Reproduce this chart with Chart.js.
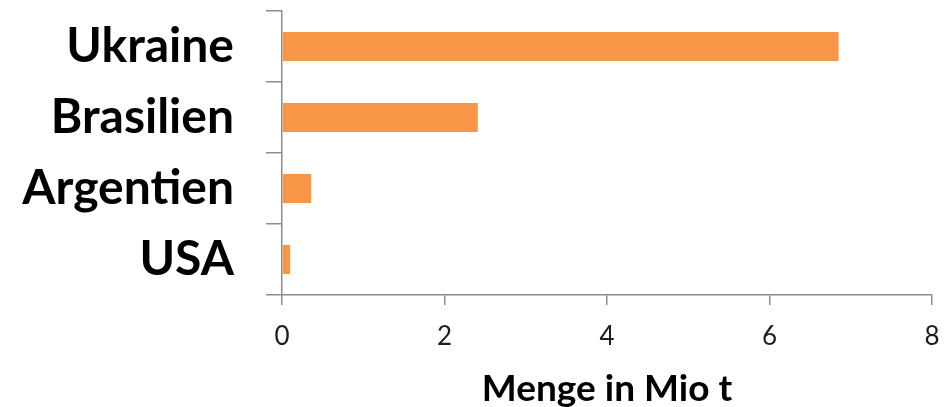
<!DOCTYPE html>
<html>
<head>
<meta charset="utf-8">
<script src="https://cdn.jsdelivr.net/npm/chart.js@4/dist/chart.umd.min.js"></script>
<style>
  html, body { margin: 0; padding: 0; background: #ffffff; }
  #wrap { width: 950px; height: 407px; position: relative; }
</style>
</head>
<body>
<div id="wrap"><canvas id="myChart"></canvas></div>
<script>
const laender = ['Ukraine', 'Brasilien', 'Argentien', 'USA'];
const menge = [6.85, 2.41, 0.36, 0.1];
const xTicks = [0, 2, 4, 6, 8];
const achsenTitel = 'Menge in Mio t';

const achseGrau = '#8c8c8c'; // Achsenlinie
const balkenOrange = '#f79646';

const ctx = document.getElementById('myChart').getContext('2d');
new Chart(ctx, {
  type: 'bar',
  data: {
    labels: laender,
    datasets: [{
      data: menge,
      backgroundColor: balkenOrange,
      borderWidth: 0,
      barPercentage: 0.41,
      categoryPercentage: 1
    }]
  },
  options: {
    indexAxis: 'y',
    responsive: true,
    maintainAspectRatio: false,
    animation: false,
    layout: { padding: { top: 11, right: 18, left: 0, bottom: 0 } },
    plugins: {
      legend: { display: false },
      tooltip: { enabled: false }
    },
    scales: {
      x: {
        min: xTicks[0],
        max: xTicks[xTicks.length - 1],
        afterBuildTicks: (scale) => { scale.ticks = xTicks.map(v => ({ value: v })); },
        afterFit: (scale) => {
          scale.height = 112;
          scale.paddingLeft = 0;
          scale.paddingRight = 0;
        },
        border: { color: achseGrau, width: 1.5 },
        grid: { drawOnChartArea: false, color: achseGrau, tickLength: 10, lineWidth: 1.5 },
        ticks: {
          color: '#1e1e1e',
          padding: 16,
          font: { family: 'Lato', size: 26 }
        },
        title: {
          display: true,
          text: achsenTitel,
          color: '#000000',
          padding: { top: 0, bottom: -4 },
          font: { family: 'Lato', size: 37, weight: 'bold' }
        }
      },
      y: {
        afterFit: (scale) => {
          scale.width = 282;
          scale.paddingTop = 0;
          scale.paddingBottom = 0;
        },
        border: { color: achseGrau, width: 1.5 },
        grid: { drawOnChartArea: false, color: achseGrau, tickLength: 16, lineWidth: 1.5 },
        ticks: {
          color: '#000000',
          padding: 32,
          font: { family: 'Lato', size: 48, weight: 'bold' }
        }
      }
    }
  }
});
</script>
</body>
</html>
